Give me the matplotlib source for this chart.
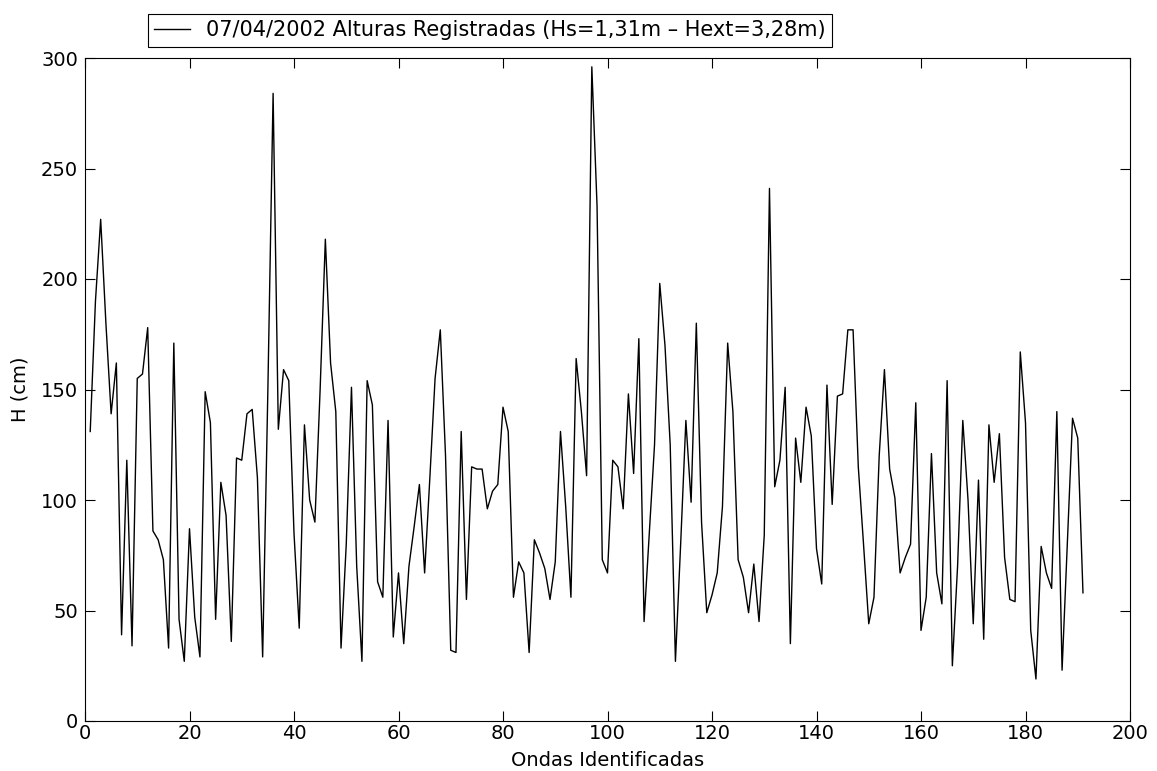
import matplotlib
matplotlib.use("Agg")
import matplotlib.pyplot as plt

plt.rcParams['font.family'] = ['DejaVu Sans']

# wave heights (cm) for each identified wave
ondas = list(range(1, 192))
alturas = [
    131, 190, 227, 180, 139, 162, 39, 118, 34, 155,
    157, 178, 86, 82, 73, 33, 171, 46, 27, 87,
    47, 29, 149, 135, 46, 108, 93, 36, 119, 118,
    139, 141, 110, 29, 150, 284, 132, 159, 154, 85,
    42, 134, 100, 90, 150, 218, 162, 140, 33, 80,
    151, 70, 27, 154, 143, 63, 56, 136, 38, 67,
    35, 70, 88, 107, 67, 110, 155, 177, 120, 32,
    31, 131, 55, 115, 114, 114, 96, 104, 107, 142,
    131, 56, 72, 67, 31, 82, 76, 69, 55, 72,
    131, 97, 56, 164, 140, 111, 296, 233, 73, 67,
    118, 115, 96, 148, 112, 173, 45, 85, 125, 198,
    170, 125, 27, 80, 136, 99, 180, 90, 49, 57,
    67, 97, 171, 140, 73, 65, 49, 71, 45, 84,
    241, 106, 118, 151, 35, 128, 108, 142, 129, 78,
    62, 152, 98, 147, 148, 177, 177, 115, 80, 44,
    56, 120, 159, 114, 101, 67, 74, 80, 144, 41,
    56, 121, 67, 53, 154, 25, 70, 136, 100, 44,
    109, 37, 134, 108, 130, 74, 55, 54, 167, 135,
    41, 19, 79, 67, 60, 140, 23, 80, 137, 128,
    58,
]

fig = plt.figure(figsize=(11.57, 7.71), dpi=100)
ax = fig.add_axes([85/1157, 1-721/771, (1130-85)/1157, (721-58)/771])

line, = ax.plot(ondas, alturas, color='black', linewidth=1.0,
                label='07/04/2002 Alturas Registradas (Hs=1,31m \u2013 Hext=3,28m)')

ax.set_xlim(0, 200)
ax.set_ylim(0, 300)
ax.set_xticks(range(0, 201, 20))
ax.set_yticks(range(0, 301, 50))
ax.tick_params(direction='in', top=True, right=True, length=7, labelsize=14, width=0.8)
ax.tick_params(axis='x', pad=2)
ax.tick_params(axis='y', pad=5)
for s in ax.spines.values():
    s.set_linewidth(0.8)
ax.set_xlabel('Ondas Identificadas', fontsize=14, labelpad=6)
ax.set_ylabel('H (cm)', fontsize=14, labelpad=8)

leg = fig.legend(handles=[line], loc='upper left',
                 bbox_to_anchor=(148/1157, 1-14/771), fontsize=15,
                 fancybox=False, framealpha=1, edgecolor='black',
                 borderpad=0.3, handlelength=1.7, handletextpad=0.8,
                 borderaxespad=0)
leg.get_frame().set_linewidth(0.8)

fig.savefig('out.png', dpi=100)
